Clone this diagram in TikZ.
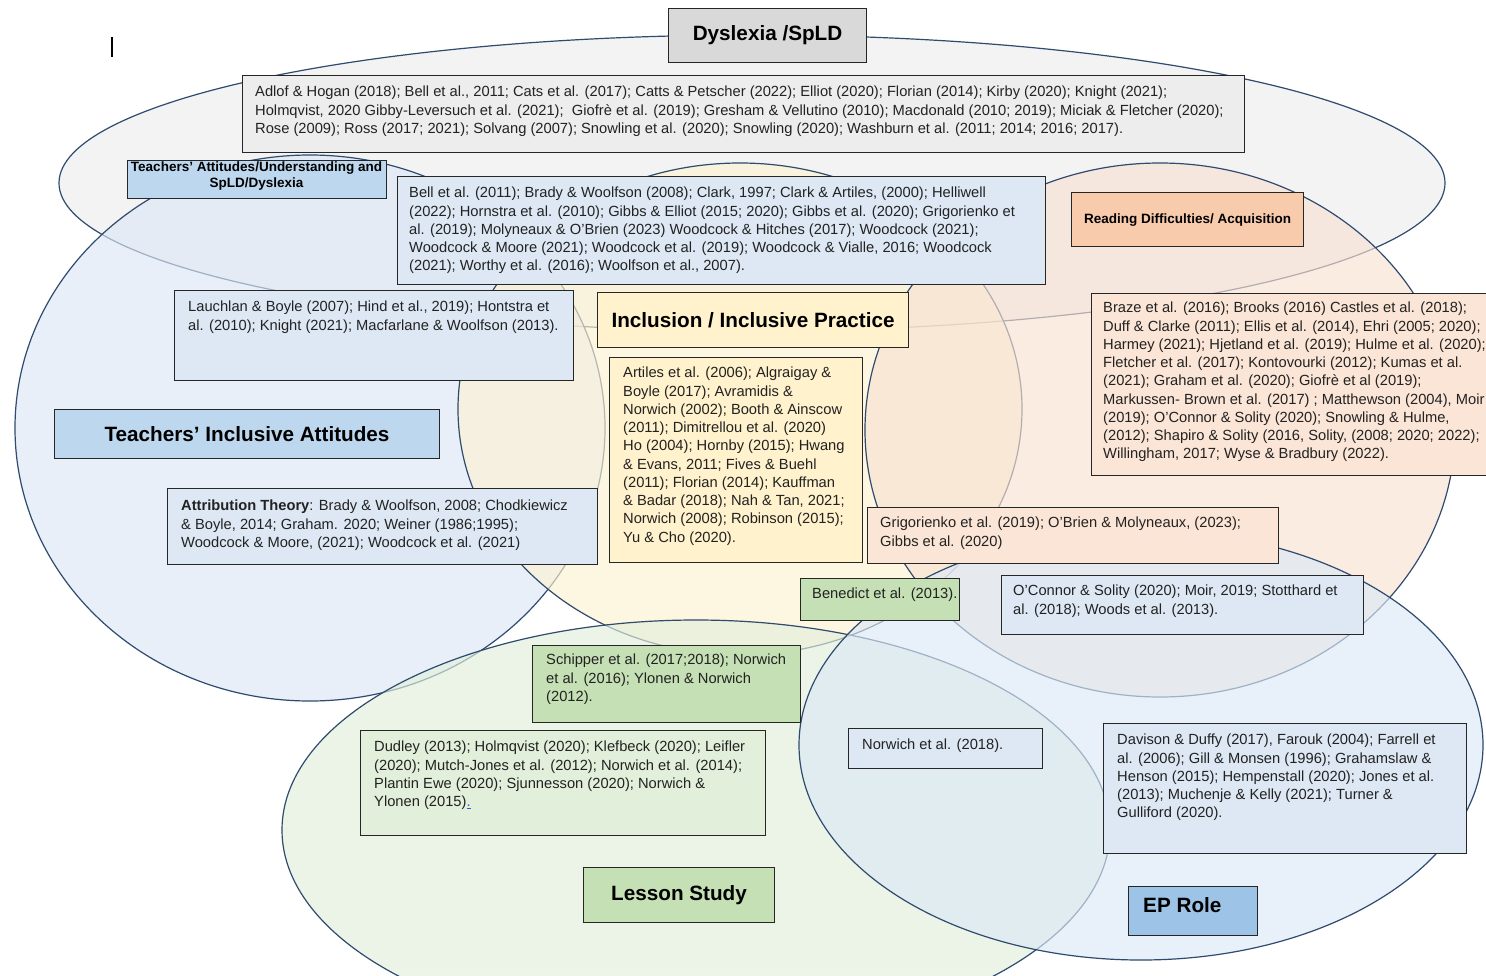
\documentclass[tikz,border=0pt]{standalone}
\usepackage{fontspec}
\setmainfont{Liberation Sans}
\definecolor{vennline}{HTML}{2F4B6E}
\definecolor{boxline}{HTML}{262626}
\definecolor{textgrey}{HTML}{222222}
\definecolor{dysfill}{HTML}{EDEDED}
\definecolor{teachfill}{HTML}{DCE7F5}
\definecolor{inclfill}{HTML}{FDF2D2}
\definecolor{readfill}{HTML}{F9E2D3}
\definecolor{lessonfill}{HTML}{E3EFDC}
\definecolor{epfill}{HTML}{DCE9F6}
\definecolor{greybox}{HTML}{D9D9D9}
\definecolor{greylight}{HTML}{EDEDED}
\definecolor{bluetitle}{HTML}{BDD7EE}
\definecolor{bluelight}{HTML}{DDE8F4}
\definecolor{peachtitle}{HTML}{F8CBAD}
\definecolor{peachlight}{HTML}{FBE5D6}
\definecolor{yellowbox}{HTML}{FFF2CC}
\definecolor{greenbox}{HTML}{C5E0B4}
\definecolor{greenlight}{HTML}{E2EFDA}
\definecolor{epblue}{HTML}{9DC3E6}
\definecolor{linkblue}{HTML}{2E5BD8}
\begin{document}
\begin{tikzpicture}[x=1pt,y=-1pt,
  venn/.style={draw=vennline, line width=1.2pt, fill opacity=0.65},
  rectbox/.style={draw=boxline, line width=1.1pt, inner sep=0pt, anchor=north west},
  bibtext/.style={anchor=north west, inner sep=0pt, align=left, text=textgrey,
    font=\fontsize{14.7}{18.25}\selectfont},
  bigtitle/.style={rectbox, text=black, font=\bfseries\fontsize{20.7}{24}\selectfont},
  smalltitle/.style={rectbox, text=black, align=center, font=\bfseries\fontsize{13.5}{15.5}\selectfont}]
\useasboundingbox (0,0) rectangle (1486,975);
\fill[white] (0,0) rectangle (1486,975);

% overlapping topic areas
\path[venn, fill=dysfill]    (752,183) ellipse [x radius=693, y radius=148];
\path[venn, fill=teachfill]  (310,428) ellipse [x radius=295, y radius=273];
\path[venn, fill=inclfill]   (740,409) ellipse [x radius=282, y radius=246];
\path[venn, fill=readfill]   (1160,430) ellipse [x radius=295, y radius=267];
\path[venn, fill=lessonfill] (696,830) ellipse [x radius=414, y radius=210];
\path[venn, fill=epfill]     (1141,745) ellipse [x radius=342, y radius=215];

% text cursor
\draw[black, line width=1.2pt] (112,37) -- (112,57);

% topic titles
\node[bigtitle, fill=greybox, minimum width=198pt, minimum height=54pt] (dys) at (668,8) {Dyslexia /SpLD};
\node[rectbox, fill=bluetitle, minimum width=259pt, minimum height=38pt] (teachund) at (127,160) {};
\node[anchor=north, inner sep=0pt, align=center, text=black, font=\bfseries\fontsize{13.5}{15.5}\selectfont]
  (teachund-t) at (256.5,162) {Teachers’ Attitudes/Understanding and\\ SpLD/Dyslexia};
\node[smalltitle, fill=peachtitle, minimum width=232pt, minimum height=54pt] (read) at (1071,192)
  {Reading Difficulties/ Acquisition};
\node[bigtitle, fill=yellowbox, minimum width=311pt, minimum height=55pt] (incl) at (597,292)
  {Inclusion / Inclusive Practice};
\node[bigtitle, fill=bluetitle, minimum width=385pt, minimum height=49pt] (teachincl) at (54,409)
  {Teachers’ Inclusive Attitudes};
\node[bigtitle, fill=greenbox, minimum width=191pt, minimum height=55pt] (lesson) at (583,867)
  {Lesson Study};
\node[rectbox, fill=epblue, minimum width=129pt, minimum height=49pt] (ep) at (1128,886) {};
\node[anchor=west, inner sep=0pt, font=\bfseries\fontsize{20.7}{24}\selectfont] (ep-t) at (1143,905) {EP Role};

% reference boxes
\node[rectbox, fill=greylight, minimum width=1002pt, minimum height=77pt] (adlof) at (242,75) {};
\node[bibtext] (adlof-t) at (255,84) {%
\strut Adlof \& Hogan (2018); Bell et al., 2011; Cats et al. (2017); Catts \& Petscher (2022); Elliot (2020); Florian (2014); Kirby (2020); Knight (2021);\\
Holmqvist, 2020 Gibby-Leversuch et al. (2021);\ \ Giofrè et al. (2019); Gresham \& Vellutino (2010); Macdonald (2010; 2019); Miciak \& Fletcher (2020);\\
Rose (2009); Ross (2017; 2021); Solvang (2007); Snowling et al. (2020); Snowling (2020); Washburn et al. (2011; 2014; 2016; 2017).};

\node[rectbox, fill=bluelight, minimum width=648pt, minimum height=108pt] (bell) at (397,176) {};
\node[bibtext] (bell-t) at (409,185) {%
\strut Bell et al. (2011); Brady \& Woolfson (2008); Clark, 1997; Clark \& Artiles, (2000); Helliwell\\
(2022); Hornstra et al. (2010); Gibbs \& Elliot (2015; 2020); Gibbs et al. (2020); Grigorienko et\\
al. (2019); Molyneaux \& O’Brien (2023) Woodcock \& Hitches (2017); Woodcock (2021);\\
Woodcock \& Moore (2021); Woodcock et al. (2019); Woodcock \& Vialle, 2016; Woodcock\\
(2021); Worthy et al. (2016); Woolfson et al., 2007).};

\node[rectbox, fill=bluelight, minimum width=399pt, minimum height=90pt] (lauch) at (174,290) {};
\node[bibtext] (lauch-t) at (188,299) {%
\strut Lauchlan \& Boyle (2007); Hind et al., 2019); Hontstra et\\
al. (2010); Knight (2021); Macfarlane \& Woolfson (2013).};

\node[rectbox, fill=peachlight, minimum width=401pt, minimum height=182pt] (braze) at (1091,293) {};
\node[bibtext] (braze-t) at (1103,300) {%
\strut Braze et al. (2016); Brooks (2016) Castles et al. (2018);\\
Duff \& Clarke (2011); Ellis et al. (2014), Ehri (2005; 2020);\\
Harmey (2021); Hjetland et al. (2019); Hulme et al. (2020);\\
Fletcher et al. (2017); Kontovourki (2012); Kumas et al.\\
(2021); Graham et al. (2020); Giofrè et al (2019);\\
Markussen- Brown et al. (2017) ; Matthewson (2004), Moir\\
(2019); O’Connor \& Solity (2020); Snowling \& Hulme,\\
(2012); Shapiro \& Solity (2016, Solity, (2008; 2020; 2022);\\
Willingham, 2017; Wyse \& Bradbury (2022).};

\node[rectbox, fill=yellowbox, minimum width=253pt, minimum height=205pt] (artiles) at (609,357) {};
\node[bibtext] (artiles-t) at (623,365) {%
\strut Artiles et al. (2006); Algraigay \&\\
Boyle (2017); Avramidis \&\\
Norwich (2002); Booth \& Ainscow\\
(2011); Dimitrellou et al. (2020)\\
Ho (2004); Hornby (2015); Hwang\\
\& Evans, 2011; Fives \& Buehl\\
(2011); Florian (2014); Kauffman\\
\& Badar (2018); Nah \& Tan, 2021;\\
Norwich (2008); Robinson (2015);\\
Yu \& Cho (2020).};

\node[rectbox, fill=bluelight, minimum width=430pt, minimum height=76pt] (attrib) at (167,488) {};
\node[bibtext] (attrib-t) at (181,498) {%
\strut\textbf{Attribution Theory}: Brady \& Woolfson, 2008; Chodkiewicz\\
\& Boyle, 2014; Graham. 2020; Weiner (1986;1995);\\
Woodcock \& Moore, (2021); Woodcock et al. (2021)};

\node[rectbox, fill=peachlight, minimum width=411pt, minimum height=56pt] (grig) at (867,507) {};
\node[bibtext] (grig-t) at (880,515) {%
\strut Grigorienko et al. (2019); O’Brien \& Molyneaux, (2023);\\
Gibbs et al. (2020)};

\node[rectbox, fill=greenbox, minimum width=159pt, minimum height=42pt] (bened) at (800,578) {};
\node[bibtext] (bened-t) at (812,586) {\strut Benedict et al. (2013).};

\node[rectbox, fill=bluelight, minimum width=362pt, minimum height=59pt] (oconn) at (1001,575) {};
\node[bibtext] (oconn-t) at (1013,583) {%
\strut O’Connor \& Solity (2020); Moir, 2019; Stotthard et\\
al. (2018); Woods et al. (2013).};

\node[rectbox, fill=greenbox, minimum width=268pt, minimum height=77pt] (schip) at (532,645) {};
\node[bibtext] (schip-t) at (546,652) {%
\strut Schipper et al. (2017;2018); Norwich\\
et al. (2016); Ylonen \& Norwich\\
(2012).};

\node[rectbox, fill=greenlight, minimum width=405pt, minimum height=105pt] (dudley) at (360,730) {};
\node[bibtext] (dudley-t) at (374,739) {%
\strut Dudley (2013); Holmqvist (2020); Klefbeck (2020); Leifler\\
(2020); Mutch-Jones et al. (2012); Norwich et al. (2014);\\
Plantin Ewe (2020); Sjunnesson (2020); Norwich \&\\
Ylonen (2015){\color{linkblue}\underline{.}}};

\node[rectbox, fill=bluelight, minimum width=194pt, minimum height=40pt] (norw) at (848,728) {};
\node[bibtext] (norw-t) at (862,737) {\strut Norwich et al. (2018).};

\node[rectbox, fill=bluelight, minimum width=363pt, minimum height=130pt] (davis) at (1103,723) {};
\node[bibtext] (davis-t) at (1117,732) {%
\strut Davison \& Duffy (2017), Farouk (2004); Farrell et\\
al. (2006); Gill \& Monsen (1996); Grahamslaw \&\\
Henson (2015); Hempenstall (2020); Jones et al.\\
(2013); Muchenje \& Kelly (2021); Turner \&\\
Gulliford (2020).};
\end{tikzpicture}
\end{document}
